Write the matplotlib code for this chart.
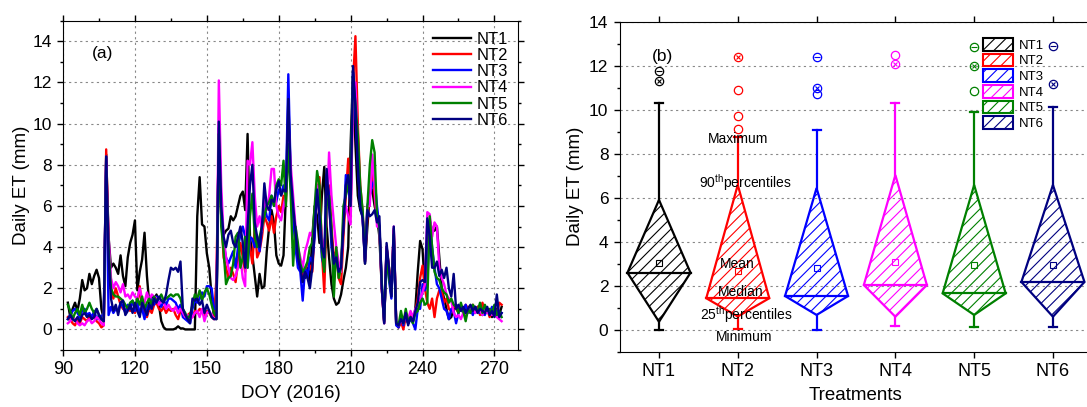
import numpy as np
import matplotlib
matplotlib.use("Agg")
from matplotlib import pyplot as plt
from matplotlib.patches import Polygon, Patch
from matplotlib.ticker import MultipleLocator

plt.rcParams['font.family'] = ['Liberation Sans', 'DejaVu Sans']
plt.rcParams['mathtext.fontset'] = 'custom'
plt.rcParams['mathtext.rm'] = 'Liberation Sans'
plt.rcParams['hatch.linewidth'] = 0.8

# daily ET (mm), DOY 92..273
doy = np.arange(92, 274)

nt1 = [1.3, 0.6, 1.0, 1.3, 0.9, 1.5, 2.4, 1.9, 2.0, 2.7,
       2.2, 2.6, 2.9, 2.5, 1.0, 0.5, 8.5, 4.5, 3.0, 3.2,
       3.0, 2.7, 3.6, 2.6, 2.1, 3.5, 4.2, 4.6, 5.3, 1.9,
       2.8, 3.4, 4.7, 2.6, 1.2, 1.6, 1.4, 1.7, 1.2, 0.4,
       0.1, 0.0, 0.0, 0.0, 0.0, 0.05, 0.15, 0.05, 0.05, 0.0,
       0.0, 0.0, 0.0, 0.0, 5.5, 7.4, 5.1, 5.0, 3.7, 3.0,
       1.6, 0.6, 0.5, 9.8, 5.5, 4.6, 4.8, 4.9, 5.5, 5.3,
       5.5, 6.0, 6.5, 6.7, 5.8, 9.5, 4.5, 3.6, 2.6, 1.6,
       2.7, 2.0, 2.1, 3.8, 5.0, 5.8, 5.2, 3.6, 3.2, 3.1,
       3.6, 6.5, 9.5, 7.0, 5.8, 4.2, 3.3, 3.0, 2.7, 2.5,
       3.0, 2.3, 4.5, 6.0, 5.5, 4.2, 6.5, 7.9, 5.0, 3.5,
       2.2, 1.5, 1.2, 1.3, 1.7, 2.4, 3.0, 4.0, 9.0, 12.5,
       9.0, 6.5, 5.8, 5.5, 3.2, 5.0, 6.6, 6.8, 6.0, 5.5,
       4.5, 2.0, 0.3, 4.0, 3.0, 1.6, 4.9, 0.3, 0.1, 0.4,
       0.2, 0.8, 0.3, 0.7, 0.4, 1.0, 2.8, 4.3, 3.9, 2.0,
       4.5, 5.3, 4.8, 4.8, 5.0, 3.5, 2.0, 1.5, 1.0, 0.5,
       0.6, 1.0, 1.2, 0.9, 1.1, 0.8, 1.0, 1.1, 0.9, 1.0,
       0.8, 1.1, 0.9, 0.7, 1.0, 0.8, 0.9, 0.6, 0.8, 1.0,
       0.7, 1.1]

nt2 = [0.6, 0.5, 0.3, 0.2, 0.5, 0.3, 0.6, 0.5, 0.4, 0.6,
       0.5, 0.7, 0.4, 0.3, 0.1, 0.2, 8.75, 4.0, 2.0, 1.5,
       2.0, 1.6, 1.2, 1.0, 0.9, 1.1, 0.9, 1.0, 0.8, 1.2,
       2.1, 1.0, 0.8, 0.6, 1.0, 0.8, 1.2, 1.3, 1.0, 0.9,
       1.1, 0.8, 1.0, 0.9, 1.0, 0.7, 0.5, 0.9, 0.8, 0.6,
       0.7, 0.8, 0.6, 0.9, 0.8, 1.0, 0.9, 0.7, 0.9, 0.8,
       0.6, 0.5, 2.5, 9.5, 5.5, 3.5, 3.0, 2.5, 3.0, 2.7,
       2.3, 3.3, 4.2, 3.5, 2.8, 5.0, 4.0, 3.2, 5.0, 3.5,
       3.8, 4.5, 5.5, 5.2, 4.8, 5.5, 4.7, 5.5, 6.0, 5.7,
       6.5, 6.2, 9.5, 7.5, 6.0, 4.5, 3.5, 3.2, 2.6, 2.9,
       3.2, 3.1, 2.8, 4.8, 6.5, 7.4, 3.8, 1.8, 6.0, 7.0,
       5.0, 3.5, 3.8, 2.5, 2.2, 4.5, 6.5, 8.3, 5.5, 12.0,
       14.25, 10.0, 7.0, 5.7, 3.3, 5.5, 6.5, 7.8, 6.5, 5.3,
       5.0, 2.0, 0.4, 4.0, 3.0, 1.8, 4.8, 0.3, 0.1, 0.4,
       0.0, 0.6, 0.3, 0.8, 0.5, 0.9, 1.5, 2.5, 3.1, 2.0,
       1.3, 1.0, 1.5, 0.6, 1.5, 1.9, 1.9, 1.3, 1.5, 1.0,
       0.9, 1.2, 1.0, 0.8, 1.1, 0.9, 1.2, 1.0, 0.8, 1.2,
       0.9, 1.1, 0.7, 1.3, 0.9, 1.0, 0.6, 0.9, 1.1, 0.7,
       1.3, 1.2]

nt3 = [0.5, 0.7, 0.9, 1.0, 0.8, 0.6, 0.9, 1.0, 0.7, 0.8,
       0.6, 0.9, 0.5, 0.7, 0.6, 0.8, 8.4, 0.7, 1.1, 0.8,
       1.0, 0.9, 1.3, 1.1, 0.8, 1.2, 1.0, 1.4, 0.9, 1.3,
       0.8, 1.0, 0.5, 1.2, 1.0, 1.5, 1.2, 1.6, 1.3, 1.1,
       1.4, 1.2, 1.5, 1.5, 1.4, 1.3, 1.0, 1.2, 0.6, 0.5,
       0.4, 0.3, 1.0, 1.4, 1.3, 1.5, 1.8, 1.6, 2.1, 2.1,
       2.0, 1.0, 1.0, 9.8, 5.5, 4.2, 3.5, 3.2, 3.5, 3.8,
       3.0, 4.0, 4.6, 5.0, 4.5, 3.0, 4.5, 4.4, 4.0, 4.5,
       3.8, 5.0, 6.0, 5.5, 5.3, 6.5, 6.0, 6.2, 6.8, 6.6,
       7.0, 6.8, 12.4, 7.5, 5.5, 4.0, 3.0, 2.8, 1.4, 3.0,
       2.5, 3.5, 3.3, 4.5, 7.0, 5.5, 3.5, 3.0, 7.5, 6.5,
       4.0, 3.0, 3.8, 2.8, 3.2, 5.0, 7.5, 7.0, 6.0, 12.5,
       10.5, 8.0, 6.0, 5.5, 3.3, 6.0, 6.5, 7.0, 7.3, 6.0,
       5.0, 2.2, 0.4, 3.8, 2.4, 1.5, 4.5, 0.2, 0.1, 0.6,
       0.2, 0.7, 0.3, 0.5, 0.3, 0.0, 1.0, 1.0, 2.2, 1.9,
       2.2, 5.3, 4.0, 3.0, 2.2, 2.0, 1.5, 1.0, 0.9, 0.5,
       1.0, 0.9, 0.3, 0.8, 1.1, 0.9, 1.2, 0.8, 1.0, 0.7,
       1.1, 0.9, 0.8, 1.0, 0.7, 1.0, 0.8, 1.1, 0.7, 0.9,
       0.6, 0.8]

nt4 = [0.3, 0.4, 0.6, 0.5, 0.3, 0.2, 0.3, 0.2, 0.4, 0.5,
       0.3, 0.4, 0.6, 0.5, 0.3, 0.2, 8.0, 4.5, 2.5, 2.0,
       2.3, 2.1, 1.8, 2.2, 1.6, 1.7, 1.5, 1.8, 1.6, 1.5,
       2.0, 1.5, 1.3, 1.8, 1.4, 1.7, 1.6, 1.5, 1.2, 1.4,
       1.3, 1.0, 1.2, 1.0, 0.9, 1.1, 0.8, 1.0, 0.8, 0.6,
       0.7, 0.5, 0.6, 0.8, 0.9, 0.6, 1.0, 0.4, 0.8, 0.9,
       0.7, 0.5, 0.6, 12.1, 7.0, 4.5, 3.5, 3.0, 2.5, 2.4,
       2.6, 3.0, 3.5, 2.5, 2.1, 8.2, 8.0, 9.1, 6.5, 5.0,
       5.5, 4.8, 6.5, 5.8, 6.5, 7.8, 7.8, 6.0, 5.5, 5.3,
       6.0, 6.5, 10.0, 8.0, 6.5, 5.0, 4.0, 3.5, 3.0, 3.8,
       4.2, 4.7, 4.5, 5.5, 7.0, 6.0, 4.5, 3.8, 5.5, 8.6,
       6.5, 5.2, 4.0, 3.3, 2.8, 5.5, 6.0, 5.5, 5.1, 11.5,
       12.0, 9.0, 6.5, 5.5, 3.5, 6.0, 6.0, 8.5, 7.0, 5.0,
       5.0, 2.0, 0.3, 4.0, 2.8, 1.8, 5.0, 0.4, 0.2, 0.5,
       0.3, 0.8, 0.5, 0.9, 0.6, 1.0, 1.2, 1.5, 1.8, 2.2,
       5.7, 5.6, 4.5, 5.2, 5.0, 3.0, 2.5, 2.2, 1.7, 1.5,
       1.4, 0.8, 0.6, 0.7, 0.5, 0.8, 0.6, 0.9, 1.0, 1.1,
       0.8, 1.0, 0.9, 0.7, 1.0, 0.8, 0.9, 0.7, 0.8, 0.6,
       0.5, 0.4]

nt5 = [1.2, 0.9, 0.5, 0.8, 1.0, 0.7, 1.2, 0.8, 1.0, 1.3,
       1.0, 0.8, 1.0, 0.7, 0.5, 0.4, 7.8, 4.0, 2.0, 1.7,
       1.6, 1.6, 1.5, 1.4, 1.2, 1.0, 1.3, 1.4, 1.1, 1.5,
       1.2, 1.6, 1.0, 1.3, 1.5, 1.2, 1.6, 1.4, 1.5, 1.7,
       1.4, 1.5, 1.6, 1.7, 1.6, 1.7, 1.7, 1.5, 1.0, 0.8,
       0.5, 0.7, 1.2, 1.7, 1.5, 1.9, 1.4, 1.8, 2.0, 1.7,
       1.2, 0.8, 0.6, 9.5, 5.0, 3.8, 2.2, 2.5, 2.6, 3.2,
       4.5, 4.7, 3.0, 3.5, 4.5, 3.0, 5.5, 6.6, 4.5, 4.0,
       4.5, 5.0, 5.5, 6.0, 6.2, 6.5, 6.0, 7.0, 7.3, 7.0,
       8.2, 6.0, 9.0, 6.5, 3.1, 5.0, 4.2, 3.2, 2.8, 3.0,
       3.3, 4.0, 4.2, 6.0, 7.7, 7.0, 3.8, 2.8, 6.0, 6.5,
       5.0, 1.6, 4.0, 2.5, 3.0, 6.0, 6.5, 7.0, 7.5, 12.3,
       11.0, 9.5, 7.0, 5.8, 3.5, 6.0, 8.0, 9.2, 8.6, 5.5,
       5.0, 2.3, 0.4, 3.5, 2.5, 1.8, 4.6, 0.4, 0.2, 0.9,
       0.3, 1.0, 0.4, 0.6, 0.3, 0.8, 0.9, 1.3, 1.5, 1.2,
       1.3, 5.5, 4.0, 2.8, 2.5, 2.4, 2.0, 1.8, 1.7, 1.3,
       1.5, 1.2, 1.1, 0.8, 1.3, 0.9, 0.4, 1.0, 0.8, 1.2,
       1.0, 0.9, 1.3, 0.8, 1.2, 0.9, 1.0, 0.8, 1.2, 0.7,
       0.9, 0.6]

nt6 = [0.5, 0.7, 0.5, 0.4, 0.6, 0.4, 0.7, 0.8, 0.6, 0.7,
       0.5, 0.6, 1.0, 0.7, 0.5, 0.4, 8.4, 3.5, 1.5, 0.9,
       1.2, 0.7, 1.3, 1.4, 0.7, 0.9, 1.2, 0.8, 1.3, 0.9,
       0.6, 1.3, 1.0, 0.7, 1.2, 1.0, 1.5, 1.3, 1.6, 1.4,
       1.3, 1.7, 2.4, 3.0, 2.9, 3.0, 2.8, 3.3, 1.0, 0.7,
       0.5, 0.3, 1.5, 1.4, 1.5, 1.2, 1.4, 0.8, 1.2, 0.9,
       0.6, 0.5, 0.5, 10.1, 6.0, 4.5, 4.0, 4.6, 4.8, 4.2,
       4.0, 4.5, 5.0, 4.2, 3.0, 5.0, 7.0, 8.0, 5.2, 4.5,
       4.0, 5.0, 7.1, 6.0, 5.8, 6.3, 6.2, 6.8, 7.2, 6.5,
       6.8, 6.7, 11.2, 7.5, 6.0, 4.8, 3.5, 3.0, 2.3, 2.8,
       2.5, 2.0, 3.0, 5.0, 6.8, 5.5, 4.0, 3.5, 7.8, 6.0,
       4.5, 3.2, 3.5, 2.8, 3.0, 5.0, 7.0, 7.5, 6.0, 12.8,
       10.8, 8.0, 6.0, 5.4, 3.2, 5.8, 5.5, 5.6, 5.8, 5.2,
       5.5, 2.0, 0.3, 4.2, 3.0, 1.6, 5.0, 0.3, 0.2, 0.5,
       0.3, 0.8, 0.2, 0.6, 0.4, 0.9, 1.3, 2.3, 2.4, 2.3,
       5.4, 4.5, 3.0, 3.0, 3.3, 2.6, 2.9, 2.5, 3.0, 2.0,
       1.6, 2.7, 1.0, 1.2, 0.9, 1.1, 0.8, 1.0, 1.2, 0.9,
       1.1, 0.8, 1.0, 0.9, 0.8, 1.1, 0.7, 0.9, 0.6, 1.7,
       0.6, 0.8]

names = ['NT1', 'NT2', 'NT3', 'NT4', 'NT5', 'NT6']
colors = ['black', '#ff0000', '#0000ff', '#ff00ff', '#008000', '#000080']

# box statistics
v_min = [0.0, 0.05, 0.0, 0.17, 0.12, 0.1]
p25 = [0.36, 0.6, 0.67, 0.59, 0.67, 0.59]
median = [2.59, 1.43, 1.53, 2.03, 1.65, 2.17]
mean = [3.02, 2.68, 2.79, 3.06, 2.94, 2.94]
p90 = [5.9, 6.58, 6.44, 7.03, 6.58, 6.58]
v_max = [10.32, 8.77, 9.08, 10.32, 9.91, 10.11]
out_vals = [[11.3, 11.76], [9.12, 9.7, 10.89, 12.39], [10.7, 10.97, 12.4],
            [12.06, 12.47], [10.86, 11.98, 12.85], [11.17, 12.9]]
out_kind = [['x', '-'], ['o', 'o', 'o', 'x'], ['o', 'x', '-'],
            ['x', 'o'], ['o', 'x', '-'], ['x', '-']]

fig = plt.figure(figsize=(10.87, 4.07), dpi=100)
ax1 = fig.add_axes([0.058, 0.140, 0.4189, 0.809])
ax2 = fig.add_axes([0.570, 0.1359, 0.4349, 0.8108])

gridkw = dict(color='#888888', linestyle=(0, (2, 3)), linewidth=0.8)

# (a) time series
series = [nt1, nt2, nt3, nt4, nt5, nt6]
for s, c, n in zip(series, colors, names):
    assert len(s) == len(doy)
    ax1.plot(doy, s, color=c, lw=1.7, label=n)
ax1.set_xlim(90, 280)
ax1.set_ylim(-1, 15)
ax1.xaxis.set_major_locator(MultipleLocator(30))
ax1.xaxis.set_minor_locator(MultipleLocator(15))
ax1.set_yticks(range(0, 15, 2))
ax1.yaxis.set_minor_locator(MultipleLocator(1))
ax1.grid(True, which='major', **gridkw)
ax1.tick_params(which='both', direction='out', top=True, right=True, width=1)
ax1.tick_params(axis='x', labelsize=13)
ax1.tick_params(axis='y', labelsize=12.5)
ax1.tick_params(which='major', length=4.5)
ax1.tick_params(which='minor', length=2.5)
ax1.set_xlabel('DOY (2016)', fontsize=13.5, labelpad=5)
ax1.set_ylabel('Daily ET (mm)', fontsize=13.5, labelpad=2)
ax1.text(106.4, 13.4, '(a)', fontsize=12.5, ha='center', va='center')
ax1.legend(loc='upper left', bbox_to_anchor=(433 / 1087, 1 - 31.5 / 407),
           bbox_transform=fig.transFigure, frameon=False, fontsize=12,
           handlelength=2.3, handletextpad=0.34, labelspacing=0.08,
           borderaxespad=0, borderpad=0)

# (b) diamond box chart
pos = np.arange(1, 7)
hw = 0.40
cap = 0.05
for i, c in enumerate(colors):
    x = pos[i]
    ax2.add_patch(Polygon([[x, p25[i]], [x - hw, median[i]], [x, p90[i]], [x + hw, median[i]]],
                          closed=True, facecolor='none', edgecolor=c, hatch='///', lw=1.6, zorder=3))
    ax2.plot([x - hw, x + hw], [median[i], median[i]], color=c, lw=1.6, zorder=3)
    ax2.plot([x, x], [p90[i], v_max[i]], color=c, lw=1.6, zorder=3)
    ax2.plot([x, x], [v_min[i], p25[i]], color=c, lw=1.6, zorder=3)
    ax2.plot([x - cap, x + cap], [v_max[i], v_max[i]], color=c, lw=1.6, zorder=3)
    ax2.plot([x - cap, x + cap], [v_min[i], v_min[i]], color=c, lw=1.6, zorder=3)
    ax2.plot(x, mean[i], marker='s', ms=4, mfc='none', mec=c, mew=0.8, zorder=4)
    for v, k in zip(out_vals[i], out_kind[i]):
        ax2.plot(x, v, marker='o', ms=6, mfc='none', mec=c, mew=0.9, zorder=4)
        if k == 'x':
            ax2.plot(x, v, marker='x', ms=3.5, mec=c, mew=0.8, zorder=4)
        elif k == '-':
            ax2.plot(x, v, marker='_', ms=4, mec=c, mew=0.8, zorder=4)

ax2.set_xlim(0.5, 6.5)
ax2.set_ylim(-1, 14)
ax2.set_xticks(pos)
ax2.set_xticklabels(names)
ax2.set_yticks(range(0, 15, 2))
ax2.yaxis.set_minor_locator(MultipleLocator(1))
ax2.yaxis.grid(True, which='major', **gridkw)
ax2.set_axisbelow(True)
ax2.tick_params(which='both', direction='out', top=True, width=1)
ax2.tick_params(axis='x', labelsize=13)
ax2.tick_params(axis='y', labelsize=12.5)
ax2.tick_params(which='major', length=4.5)
ax2.tick_params(which='minor', length=2.5)
ax2.set_xlabel('Treatments', fontsize=13.5, labelpad=5)
ax2.set_ylabel('Daily ET (mm)', fontsize=13.5, labelpad=4)
ax2.text(1.04, 12.4, '(b)', fontsize=12.5, ha='center', va='center')

notes = [(2.01, 8.65, 'Maximum'), (2.09, 6.68, r'90$^{\mathrm{th}}$percentiles'),
         (1.99, 2.99, 'Mean'), (2.04, 1.73, 'Median'),
         (2.11, 0.70, r'25$^{\mathrm{th}}$percentiles'), (2.08, -0.35, 'Minimum')]
for x, y, t in notes:
    ax2.text(x, y, t, fontsize=10, ha='center', va='center', zorder=5)

handles = [Patch(facecolor='white', edgecolor=c, hatch='///', lw=1.5, label=n)
           for c, n in zip(colors, names)]
ax2.legend(handles=handles, loc='upper left', bbox_to_anchor=(983 / 1087, 1 - 38 / 407),
           bbox_transform=fig.transFigure, frameon=False, fontsize=9.5, handlelength=2.3,
           handleheight=1.1, handletextpad=0.45, labelspacing=0.14, borderaxespad=0, borderpad=0)

fig.savefig('out.png', dpi=100)
